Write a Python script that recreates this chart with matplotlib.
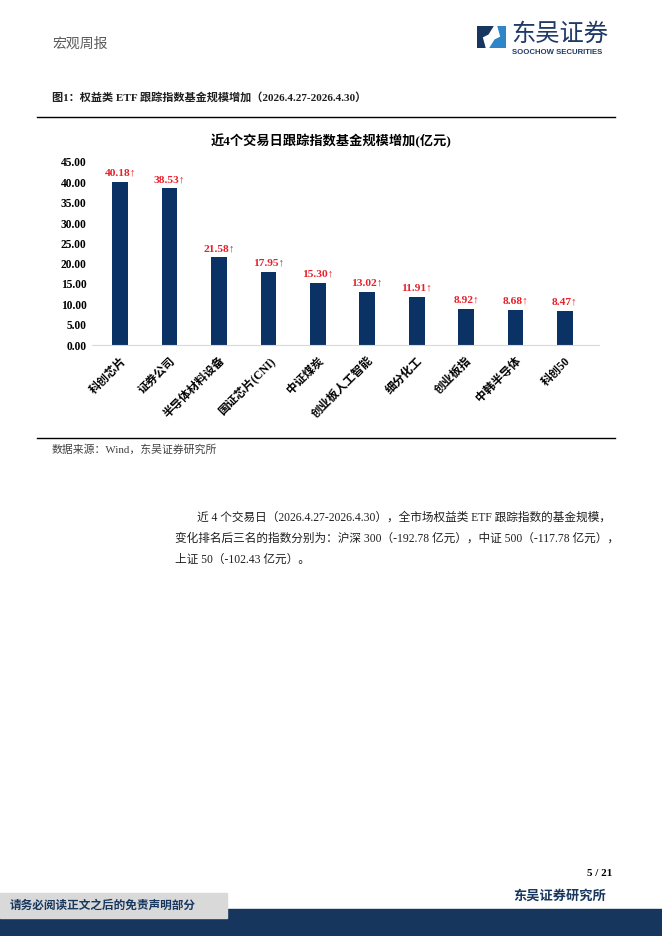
import matplotlib
matplotlib.use("Agg")
import matplotlib.pyplot as plt
from matplotlib.patches import Rectangle, Polygon

categories = ["科创芯片", "证券公司", "半导体材料设备", "国证芯片(CNI)", "中证煤炭",
              "创业板人工智能", "细分化工", "创业板指", "中韩半导体", "科创50"]
values = [40.18, 38.53, 21.58, 17.95, 15.30, 13.02, 11.91, 8.92, 8.68, 8.47]
yticks = [0, 5, 10, 15, 20, 25, 30, 35, 40, 45]

W, H = 662, 936
fig = plt.figure(figsize=(W / 100, H / 100), dpi=100)
fig.patch.set_facecolor("white")

CJK = ["Noto Sans CJK SC", "DejaVu Sans"]
MIX = ["Liberation Serif", "Noto Sans CJK SC", "DejaVu Sans"]
NAVY = "#0A3265"

def fx(x):
    return x / W

def fy(y):
    return 1 - y / H

# header
fig.text(fx(52), fy(44), "宏观周报", family=CJK, fontsize=10, color="#595959", va="center", ha="left")

# logo icon
logo = fig.add_axes([fx(477), fy(48), fx(29), (48 - 26) / H])
logo.set_xlim(0, 29); logo.set_ylim(0, 22); logo.axis("off")
logo.add_patch(Polygon([(0, 0), (0, 22), (16, 22), (11, 14), (5, 11), (8, 0)], closed=True,
                       color="#17375E"))
logo.add_patch(Polygon([(29, 22), (29, 0), (13, 0), (18, 8), (24, 11), (21, 22)], closed=True,
                       color="#2E86C8"))
fig.text(fx(511), fy(34), "东吴证券", family=CJK, fontsize=17.5, color="#1F3A68", va="center", ha="left")
fig.text(fx(512), fy(52.5), "SOOCHOW SECURITIES", family=["Liberation Sans", "DejaVu Sans"],
         fontsize=5.6, fontweight="bold", color="#1F3A68", va="center", ha="left")

# caption
fig.text(fx(52), fy(97), "图1：权益类 ETF 跟踪指数基金规模增加（2026.4.27-2026.4.30）", family=MIX,
         fontsize=8, fontweight="bold", color="#1F1F1F", va="center", ha="left")

# separator lines
fig.add_artist(plt.Line2D([fx(37), fx(615)], [fy(117), fy(117)], color="black", lw=1.0))
fig.add_artist(plt.Line2D([fx(37), fx(615)], [fy(438), fy(438)], color="black", lw=1.0))

# chart title
fig.text(fx(331), fy(141), "近4个交易日跟踪指数基金规模增加(亿元)", family=MIX, fontsize=9.5,
         fontweight="bold", color="black", va="center", ha="center")

# chart
ax = fig.add_axes([fx(92), fy(345), fx(599) - fx(92), (345 - 162) / H])
x = list(range(len(categories)))
ax.bar(x, values, width=0.32, color=NAVY, zorder=2)
ax.set_xlim(-0.57, 9.69)
ax.set_ylim(0, 45)
ax.set_yticks(yticks)
ax.set_yticklabels([f"{v:.2f}" for v in yticks], family=["Liberation Serif", "DejaVu Serif"],
                   fontsize=8.3, fontweight="bold")
ax.set_xticks(x)
ax.set_xticklabels(categories, rotation=45, ha="right", rotation_mode="anchor",
                   family=MIX, fontsize=8.4, fontweight="bold")
ax.tick_params(axis="both", length=0)
ax.tick_params(axis="y", pad=4)
ax.tick_params(axis="x", pad=7)
for s in ["top", "right", "left"]:
    ax.spines[s].set_visible(False)
ax.spines["bottom"].set_color("#D9D9D9")
ax.spines["bottom"].set_linewidth(0.8)
ax.set_facecolor("none")
for xi, v in zip(x, values):
    ax.annotate(f"{v:.2f}↑", (xi, v), xytext=(0, 3), textcoords="offset points",
                ha="center", va="bottom", color="#E8202A", fontsize=8.2, fontweight="bold",
                family=["Liberation Serif", "DejaVu Sans"])

# source
fig.text(fx(52), fy(450), "数据来源：Wind，东吴证券研究所", family=MIX, fontsize=7.8, color="#404040",
         va="center", ha="left")

# body text
body_kw = dict(family=MIX, fontsize=8.4, color="#1F1F1F", va="center", ha="left")
fig.text(fx(197), fy(518), "近 4 个交易日（2026.4.27-2026.4.30），全市场权益类 ETF 跟踪指数的基金规模，", **body_kw)
fig.text(fx(175), fy(539), "变化排名后三名的指数分别为：沪深 300（-192.78 亿元），中证 500（-117.78 亿元），", **body_kw)
fig.text(fx(175), fy(560), "上证 50（-102.43 亿元）。", **body_kw)

# footer
fig.text(fx(612), fy(873), "5 / 21", family=["Liberation Serif", "DejaVu Serif"], fontsize=8,
         fontweight="bold", color="black", va="center", ha="right")
fig.text(fx(606), fy(896), "东吴证券研究所", family=CJK, fontsize=9.5, fontweight="bold",
         color="#17375E", va="center", ha="right")
fig.add_artist(Rectangle((0, 0), 1, (H - 909) / H, transform=fig.transFigure, color="#17365D", zorder=1))
fig.add_artist(Rectangle((0, fy(918)), fx(227), (918 - 893) / H, transform=fig.transFigure,
                         color="#D9D9D9", zorder=2))
fig.text(fx(10), fy(905.5), "请务必阅读正文之后的免责声明部分", family=CJK, fontsize=8.4, fontweight="bold",
         color="#17375E", va="center", ha="left", zorder=3)

fig.savefig("out.png", dpi=100)
